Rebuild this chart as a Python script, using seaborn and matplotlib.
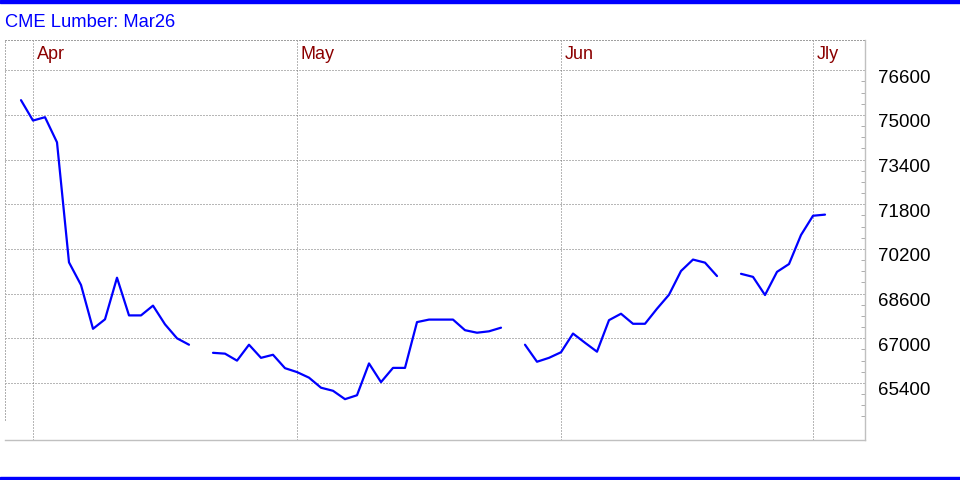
import numpy as np
import pandas as pd
import matplotlib
matplotlib.use("Agg")
import matplotlib.pyplot as plt
import seaborn as sns
from matplotlib.transforms import ScaledTranslation, blended_transform_factory
from matplotlib.ticker import FixedLocator
from matplotlib.patches import Rectangle

# ---- data (trading-day index, NaN = no trade) ----
day_index = list(range(-1, 67))
prices = [75530, 74800, 74920, 74020, 69720, 68910, 67340, 67680, 69170, 67820,
          67820, 68170, 67500, 67000, 66770, np.nan, 66480, 66450, 66200, 66770,
          66300, 66410, 65930, 65790, 65590, 65230, 65120, 64820, 64960, 66100,
          65430, 65940, 65940, 67580, 67670, 67670, 67670, 67290, 67200, 67250,
          67380, np.nan, 66770, 66160, 66300, 66500, 67170, 66840, 66520, 67650,
          67880, 67520, 67520, 68060, 68560, 69410, 69820, 69710, 69230, np.nan,
          69310, 69200, 68550, 69380, 69660, 70700, 71390, 71430]
month_pos = [0, 22, 44, 65]
month_labels = ["Apr", "May", "Jun", "Jly"]
ytick_vals = [65400, 67000, 68600, 70200, 71800, 73400, 75000, 76600]
minor_vals = [v for v in range(64200, 76201, 400) if v not in ytick_vals]
title = "CME Lumber: Mar26"

df = pd.DataFrame({"day": day_index, "price": prices})
df["seg"] = df["price"].isna().cumsum()
df = df.dropna()

sns.set_style("white")
plt.rcParams["font.family"] = ["Liberation Sans", "DejaVu Sans"]

fig = plt.figure(figsize=(9.6, 4.8), dpi=100)
ax = fig.add_axes([5 / 960, 40 / 480, 860 / 960, 400 / 480])

sns.lineplot(data=df, x="day", y="price", units="seg", estimator=None,
             color="#0000FF", linewidth=1.6, ax=ax, legend=False)

ax.set_xlim(-2.333, 69.333)
ax.set_ylim(63357, 77685)
ax.set_xlabel("")
ax.set_ylabel("")

grid_kw = dict(color="#707070", linestyle=(0, (1, 2)), linewidth=0.72)
ax.set_xticks(month_pos)
ax.set_xticklabels([])
ax.set_yticks(ytick_vals)
ax.yaxis.tick_right()
ax.yaxis.set_minor_locator(FixedLocator(minor_vals))
ax.grid(True, which="major", **grid_kw)
ax.tick_params(axis="x", which="both", length=0)
ax.tick_params(axis="y", which="major", length=0, pad=9.5, labelsize=13.5,
               labelcolor="black", right=True, left=False)
ax.tick_params(axis="y", which="minor", direction="in", length=3,
               color="#a0a0a0", right=True, left=False)
for lbl in ax.get_yticklabels():
    lbl.set_transform(lbl.get_transform() +
                      ScaledTranslation(0, -6 / 100, fig.dpi_scale_trans))

# spines
for s in ["bottom", "right"]:
    ax.spines[s].set_visible(True)
    ax.spines[s].set_color("#c0c0c0")
    ax.spines[s].set_linewidth(1.0)
ax.spines["top"].set_color("#a0a0a0")
ax.spines["top"].set_linestyle((0, (1, 2)))
ax.spines["top"].set_linewidth(0.72)
ax.spines["left"].set_color("#b0b0b0")
ax.spines["left"].set_linestyle((0, (1, 2)))
ax.spines["left"].set_linewidth(0.72)
ax.spines["left"].set_bounds(64070, 77685)

# month labels
trans = blended_transform_factory(ax.transData, ax.transAxes) + \
    ScaledTranslation(4 / 100, -6.5 / 100, fig.dpi_scale_trans)
for p, m in zip(month_pos, month_labels):
    ax.text(p, 1, m, transform=trans, ha="left", va="top",
            color="#8B0000", fontsize=13)

# title and frame bars
fig.text(5 / 960, 1 - 27 / 480, title, color="#0000FF", fontsize=13.2,
         ha="left", va="baseline")
fig.patches.append(Rectangle((0, 1 - 3 / 480), 1, 3 / 480, transform=fig.transFigure,
                             color="#0000FF", zorder=5))
fig.patches.append(Rectangle((0, 0), 1, 3 / 480, transform=fig.transFigure,
                             color="#0000FF", zorder=5))

fig.savefig("out.png", dpi=100)
